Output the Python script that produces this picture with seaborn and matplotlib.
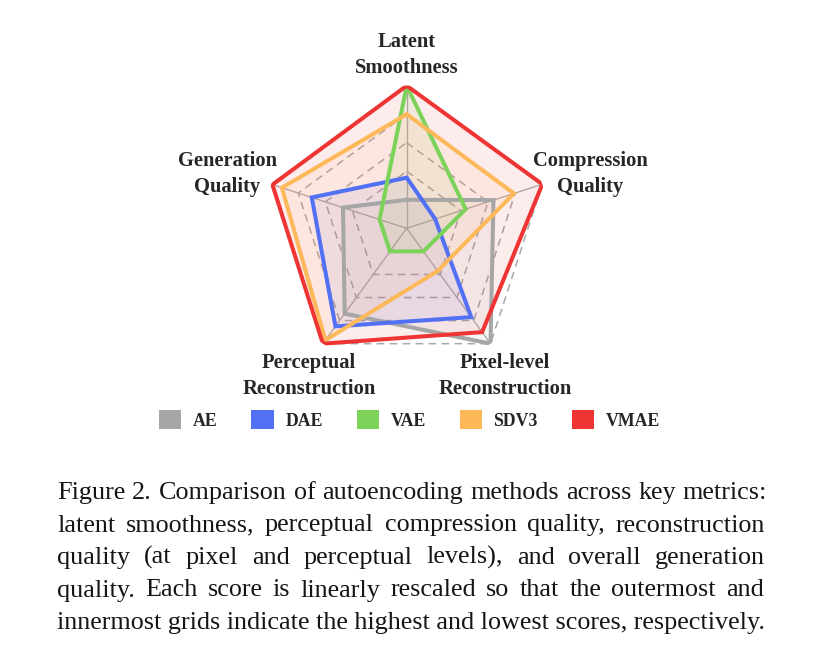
import numpy as np
import pandas as pd
import matplotlib
matplotlib.use("Agg")
import matplotlib.pyplot as plt
from matplotlib.patches import Patch
import seaborn as sns

# ---------------- data ----------------
axis_labels = [["Latent", "Smoothness"],
               ["Compression", "Quality"],
               ["Pixel-level", "Reconstruction"],
               ["Perceptual", "Reconstruction"],
               ["Generation", "Quality"]]
methods = ["AE", "DAE", "VAE", "SDV3", "VMAE"]
ae_scores = [0.20, 0.64, 1.00, 0.74, 0.47]
dae_scores = [0.355, 0.21, 0.77, 0.85, 0.70]
vae_scores = [1.00, 0.435, 0.20, 0.20, 0.20]
sdv3_scores = [0.80, 0.79, 0.37, 0.97, 0.92]
vmae_scores = [1.00, 1.00, 0.90, 1.00, 0.99]
grid_levels = [0.4, 0.6, 0.8, 1.0]
method_colors = ["#a6a6a6", "#5170f4", "#7dd35a", "#fdb85a", "#ef3434"]
caption_lines = [
    "Figure 2. Comparison of autoencoding methods across key metrics:",
    "latent smoothness, perceptual compression quality, reconstruction",
    "quality (at pixel and perceptual levels), and overall generation",
    "quality. Each score is linearly rescaled so that the outermost and",
    "innermost grids indicate the highest and lowest scores, respectively.",
]

all_scores = [ae_scores, dae_scores, vae_scores, sdv3_scores, vmae_scores]

# ---------------- style ----------------
sns.set_theme(style="white")
SERIF = ["Liberation Serif", "DejaVu Serif"]
plt.rcParams["font.family"] = SERIF

W, H = 822, 669
fig = plt.figure(figsize=(W / 100, H / 100), dpi=100)

cx, cy, R = 406.7, 228.3, 142.6
ax = fig.add_axes([(cx - R) / W, 1 - (cy + R) / H, 2 * R / W, 2 * R / H],
                  projection="polar")
ax.set_theta_offset(np.pi / 2)
ax.set_theta_direction(-1)

n = len(axis_labels)
angles = np.arange(n) * 2 * np.pi / n
theta_closed = np.append(angles, 2 * np.pi)

# grid: dashed pentagons + solid spokes
for lvl in grid_levels:
    ax.plot(theta_closed, [lvl] * (n + 1), color="#a9a9a9", lw=1.1,
            ls=(0, (5, 3.5)), zorder=1)
for a in angles:
    ax.plot([a, a], [0, 1.0], color="#b0b0b0", lw=1.0, zorder=1)

# fills
for sc, col in zip(all_scores, method_colors):
    ax.fill(theta_closed, sc + [sc[0]], color=col, alpha=0.09, lw=0, zorder=2)

# lines via seaborn
rows = []
for m, sc in zip(methods, all_scores):
    for t, v in zip(theta_closed, sc + [sc[0]]):
        rows.append({"method": m, "theta": t, "score": v})
df = pd.DataFrame(rows)
sns.lineplot(data=df, x="theta", y="score", hue="method", hue_order=methods,
             palette=method_colors, sort=False, estimator=None, lw=2.9,
             legend=False, ax=ax, zorder=3)
for ln in ax.get_lines()[-len(methods):]:
    ln.set_solid_joinstyle("miter")

ax.set_ylim(0, 1)
ax.set_axis_off()

# axis labels (pixel positions: center x, baselines)
label_pos = [(407, 46.7, 72.7), (590.5, 166, 192), (505, 368.3, 394),
             (309, 368.3, 394), (227, 166, 192)]
for (l1, l2), (x, y1, y2) in zip(axis_labels, label_pos):
    for txt, yy in ((l1, y1), (l2, y2)):
        fig.text(x / W, 1 - yy / H, txt, ha="center", va="baseline",
                 fontsize=14.8, fontweight="bold", family=SERIF)

# legend
handles = [Patch(facecolor=c, edgecolor="none", label=m)
           for m, c in zip(methods, method_colors)]
fig.legend(handles=handles, loc="center", bbox_to_anchor=(409.5 / W, 1 - 420 / H),
           ncol=5, frameon=False,
           prop={"family": SERIF, "weight": "bold", "size": 12.8},
           handlelength=1.24, handleheight=1.24, handletextpad=0.67,
           columnspacing=1.9, borderpad=0)

# caption, justified
renderer = fig.canvas.get_renderer()
left_px = 57
right_px = [767, 765, 765, 764, 763]
baselines = [499, 531.5, 564, 596.5, 629]

probe = fig.text(0, 0, caption_lines[-1], fontsize=16, family=SERIF)
nat_w = probe.get_window_extent(renderer).width
probe.remove()
fs = 16 * 706 / nat_w

for i, (line, yb, rp) in enumerate(zip(caption_lines, baselines, right_px)):
    if i == len(caption_lines) - 1:
        fig.text(left_px / W, 1 - yb / H, line, fontsize=fs, family=SERIF,
                 va="baseline", ha="left", color="#151515")
        continue
    words = line.split(" ")
    objs, widths = [], []
    for w in words:
        t = fig.text(0, 1 - yb / H, w, fontsize=fs, family=SERIF,
                     va="baseline", ha="left", color="#151515")
        objs.append(t)
        widths.append(t.get_window_extent(renderer).width)
    gap = (rp - left_px - sum(widths)) / (len(words) - 1)
    x = left_px
    for t, w in zip(objs, widths):
        t.set_x(x / W)
        x += w + gap

fig.savefig("out.png", dpi=100)
